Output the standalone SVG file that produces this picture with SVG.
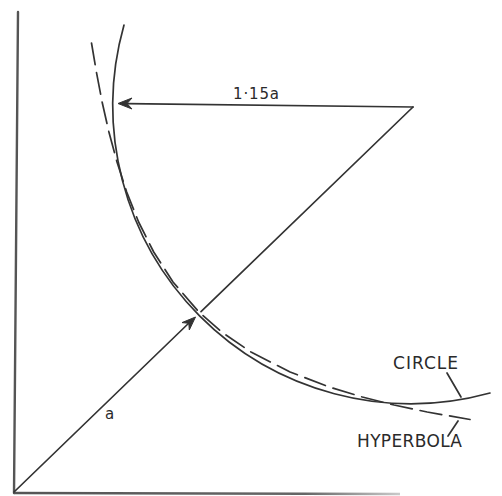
<svg xmlns="http://www.w3.org/2000/svg" width="502" height="496" viewBox="0 0 502 496">
  <defs>
    <linearGradient id="fade" gradientUnits="userSpaceOnUse" x1="14" y1="0" x2="402" y2="0">
      <stop offset="0" stop-color="#555"/>
      <stop offset="0.75" stop-color="#666"/>
      <stop offset="1" stop-color="#ccc"/>
    </linearGradient>
  </defs>
  <style>
    .ink { fill: none; stroke: #333; stroke-width: 1.7; stroke-linecap: round; stroke-linejoin: round; }
    .axis { fill: none; stroke: #555; stroke-width: 2.4; stroke-linecap: round; }
    .head { fill: #333; stroke: #333; stroke-width: 1; stroke-linejoin: round; }
    .lbl { font-family: "DejaVu Sans", "Liberation Sans", sans-serif; fill: #2a2a2a; }
  </style>
  <rect width="502" height="496" fill="#fff"/>

  <g id="axes">
    <line class="axis" x1="18" y1="12" x2="14" y2="493"/>
    <line x1="14" y1="493" x2="400" y2="494" stroke="url(#fade)" stroke-width="2.4"/>
  </g>

  <g id="circle">
    <path class="ink" d="M124 25 A298 298 0 0 0 490 393"/>
  </g>

  <g id="hyperbola">
    <path class="ink" stroke-dasharray="22 8" stroke-width="1.8"
      d="M91.5 43 L96.4 72 L102.1 102 L108.9 132 L117 162 L126.7 192 L138.6 222 L153.7 252 L173 282 L198.9 312 L221.7 332 L251 352 L290.1 372 L329.2 387 L362.3 397 L394.1 405 L427.2 412 L470 419.5"/>
  </g>

  <g id="connectors">
    <line class="ink" x1="14" y1="492" x2="191" y2="321"/>
    <line class="ink" x1="201" y1="311.6" x2="413" y2="107"/>
    <path class="head" d="M195.5 317 L189.3 330 L188.8 323.3 L182 322.6 Z"/>
    <line class="ink" x1="127" y1="103.6" x2="413" y2="107"/>
    <path class="head" d="M118 103.5 L132 98 L127 103.6 L132 109 Z"/>
    <line class="ink" x1="447" y1="373" x2="461" y2="397"/>
    <line class="ink" x1="458" y1="421" x2="448" y2="436"/>
  </g>

  <g id="labels">
    <text class="lbl" x="233" y="99" font-size="15" textLength="46" lengthAdjust="spacing">1·15a</text>
    <text class="lbl" x="105" y="419" font-size="15">a</text>
    <text class="lbl" x="393" y="369" font-size="17" textLength="65" lengthAdjust="spacing">CIRCLE</text>
    <text class="lbl" x="357" y="447" font-size="17" textLength="105" lengthAdjust="spacing">HYPERBOLA</text>
  </g>
</svg>
